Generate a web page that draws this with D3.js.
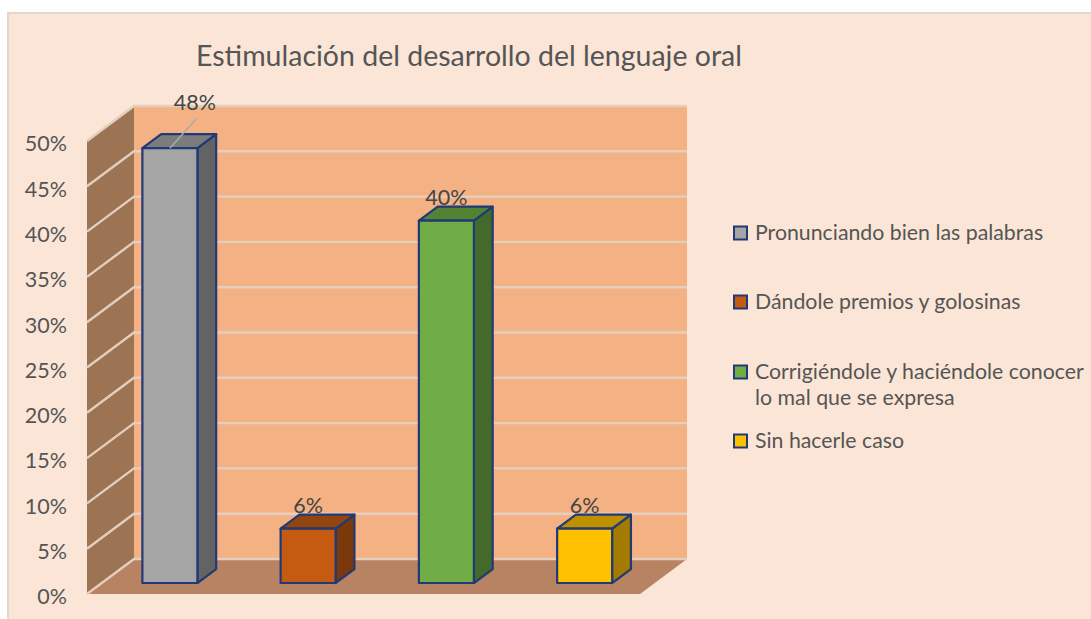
<!DOCTYPE html>
<html>
<head>
<meta charset="utf-8">
<script src="https://cdn.jsdelivr.net/npm/d3@7"></script>
<style>
  body { margin: 0; background: #fff; }
  svg { display: block; }
  text { font-family: Lato, "Open Sans", sans-serif; fill: #555555; }
</style>
</head>
<body>
<div id="chart"></div>
<script>
// datos
const categories = ["Pronunciando bien las palabras", "Dándole premios y golosinas", "Corrigiéndole y haciéndole conocer", "Sin hacerle caso"]
const values = [48, 6, 40, 6]
const yTicks = [0, 5, 10, 15, 20, 25, 30, 35, 40, 45, 50]
const titleText = "Estimulación del desarrollo del lenguaje oral"
const legendExtra = "lo mal que se expresa"

const frontColors = ["#a5a5a5", "#c55a11", "#70ad47", "#ffc000"]
const topColors = ["#7c7c7c", "#94440d", "#548235", "#bf9000"]
const sideColors = ["#636363", "#7a380b", "#436a2b", "#a37b00"]

const width = 1091
const height = 619
const depthX = 47
const depthY = 35
const barZ = [0.314, 0.714]
const barWidth = 55
const outline = "#1f3a77"

const svg = d3.select("#chart").append("svg").attr("width", width).attr("height", height)

const x = d3.scaleBand().domain(categories).range([87, 640])
const y = d3.scaleLinear().domain([0, 50]).range([594, 141])

// proyeccion simple de la caja 3D
const px = (v, z) => v + depthX * z
const py = (v, z) => y(v) - depthY * z
const poly = pts => pts.map(p => p.join(",")).join(" ")

// fondo del grafico (el borde derecho e inferior quedan fuera del lienzo)
svg.append("rect").attr("x", 8).attr("y", 13).attr("width", width).attr("height", height)
    .attr("fill", "#fbe5d6").attr("stroke", "#dfd8d2").attr("stroke-width", 2)

// paredes y suelo
const left = x.range()[0], right = x.range()[1]
svg.append("polygon").attr("fill", "#f4b183")
    .attr("points", poly([[px(left, 1), py(50, 1)], [px(right, 1), py(50, 1)], [px(right, 1), py(0, 1)], [px(left, 1), py(0, 1)]]))
svg.append("polygon").attr("fill", "#9c7353")
    .attr("points", poly([[left, py(50, 0)], [px(left, 1), py(50, 1)], [px(left, 1), py(0, 1)], [left, py(0, 0)]]))
svg.append("polygon").attr("fill", "#b88363")
    .attr("points", poly([[left, py(0, 0)], [px(left, 1), py(0, 1)], [px(right, 1), py(0, 1)], [right, py(0, 0)]]))

// rejilla
svg.append("g").selectAll("polyline").data(yTicks).join("polyline")
    .attr("fill", "none")
    .attr("stroke", "#e4cfbf")
    .attr("stroke-width", 2.4)
    .attr("points", d => poly([[left, py(d, 0)], [px(left, 1), py(d, 1)], [px(right, 1), py(d, 1)]]))

// eje Y
const yAxis = d3.axisLeft(y).tickValues(yTicks).tickSize(0).tickPadding(20).tickFormat(d => d + "%")
const yAxisGroup = svg.append("g").attr("transform", `translate(${left},3)`).call(yAxis)
yAxisGroup.select(".domain").remove()
yAxisGroup.selectAll("text").style("font-size", "21.5px")
yAxisGroup.attr("font-family", null)

// barras
const bars = svg.append("g").selectAll("g").data(values).join("g")
const barLeft = i => x(categories[i]) + x.bandwidth() / 2 - barWidth / 2 - 1
bars.each(function(d, i) {
    const g = d3.select(this)
    const x0 = barLeft(i), x1 = x0 + barWidth
    const [z0, z1] = barZ
    g.selectAll("polygon").data([
        {fill: sideColors[i], pts: [[px(x1, z0), py(d, z0)], [px(x1, z1), py(d, z1)], [px(x1, z1), py(0, z1)], [px(x1, z0), py(0, z0)]]},
        {fill: topColors[i], pts: [[px(x0, z0), py(d, z0)], [px(x0, z1), py(d, z1)], [px(x1, z1), py(d, z1)], [px(x1, z0), py(d, z0)]]},
        {fill: frontColors[i], pts: [[px(x0, z0), py(d, z0)], [px(x1, z0), py(d, z0)], [px(x1, z0), py(0, z0)], [px(x0, z0), py(0, z0)]]}
    ]).join("polygon")
        .attr("fill", p => p.fill)
        .attr("stroke", outline)
        .attr("stroke-width", 2.2)
        .attr("stroke-linejoin", "round")
        .attr("points", p => poly(p.pts))
})

// etiquetas de datos
const labelX = (d, i) => px(barLeft(i) + barWidth / 2, barZ[0]) + (i === 0 ? 25 : 0)
svg.append("g").selectAll("text").data(values).join("text")
    .attr("text-anchor", "middle")
    .attr("font-size", 21.5)
    .attr("fill", "#404040")
    .style("fill", "#454545")
    .attr("x", labelX)
    .attr("y", (d, i) => py(d, barZ[1]) - (i === 0 ? 24 : 2))
    .text(d => d + "%")

// linea guia de la primera etiqueta
svg.append("line")
    .attr("x1", px(barLeft(0) + barWidth / 2, barZ[0]))
    .attr("y1", py(values[0], barZ[0]))
    .attr("x2", px(barLeft(0) + barWidth / 2, barZ[0]) + 26)
    .attr("y2", py(values[0], barZ[0]) - 29)
    .attr("stroke", "#aaaaaa")
    .attr("stroke-width", 1.5)

// titulo
svg.append("text")
    .attr("x", 469).attr("y", 66)
    .attr("text-anchor", "middle")
    .attr("font-size", 28.5)
    .text(titleText)

// leyenda
const legendY = [233, 302, 372, 441]
const legend = svg.append("g").selectAll("g").data(categories).join("g")
    .attr("transform", (d, i) => `translate(734,${legendY[i]})`)
legend.append("rect")
    .attr("x", 0).attr("y", -6.5)
    .attr("width", 13).attr("height", 13)
    .attr("fill", (d, i) => frontColors[i])
    .attr("stroke", outline)
    .attr("stroke-width", 2)
legend.append("text")
    .attr("x", 21).attr("y", 6.5)
    .attr("font-size", 21.3)
    .text(d => d)
svg.append("text")
    .attr("x", 755).attr("y", 405)
    .attr("font-size", 21.3)
    .text(legendExtra)
</script>
</body>
</html>
